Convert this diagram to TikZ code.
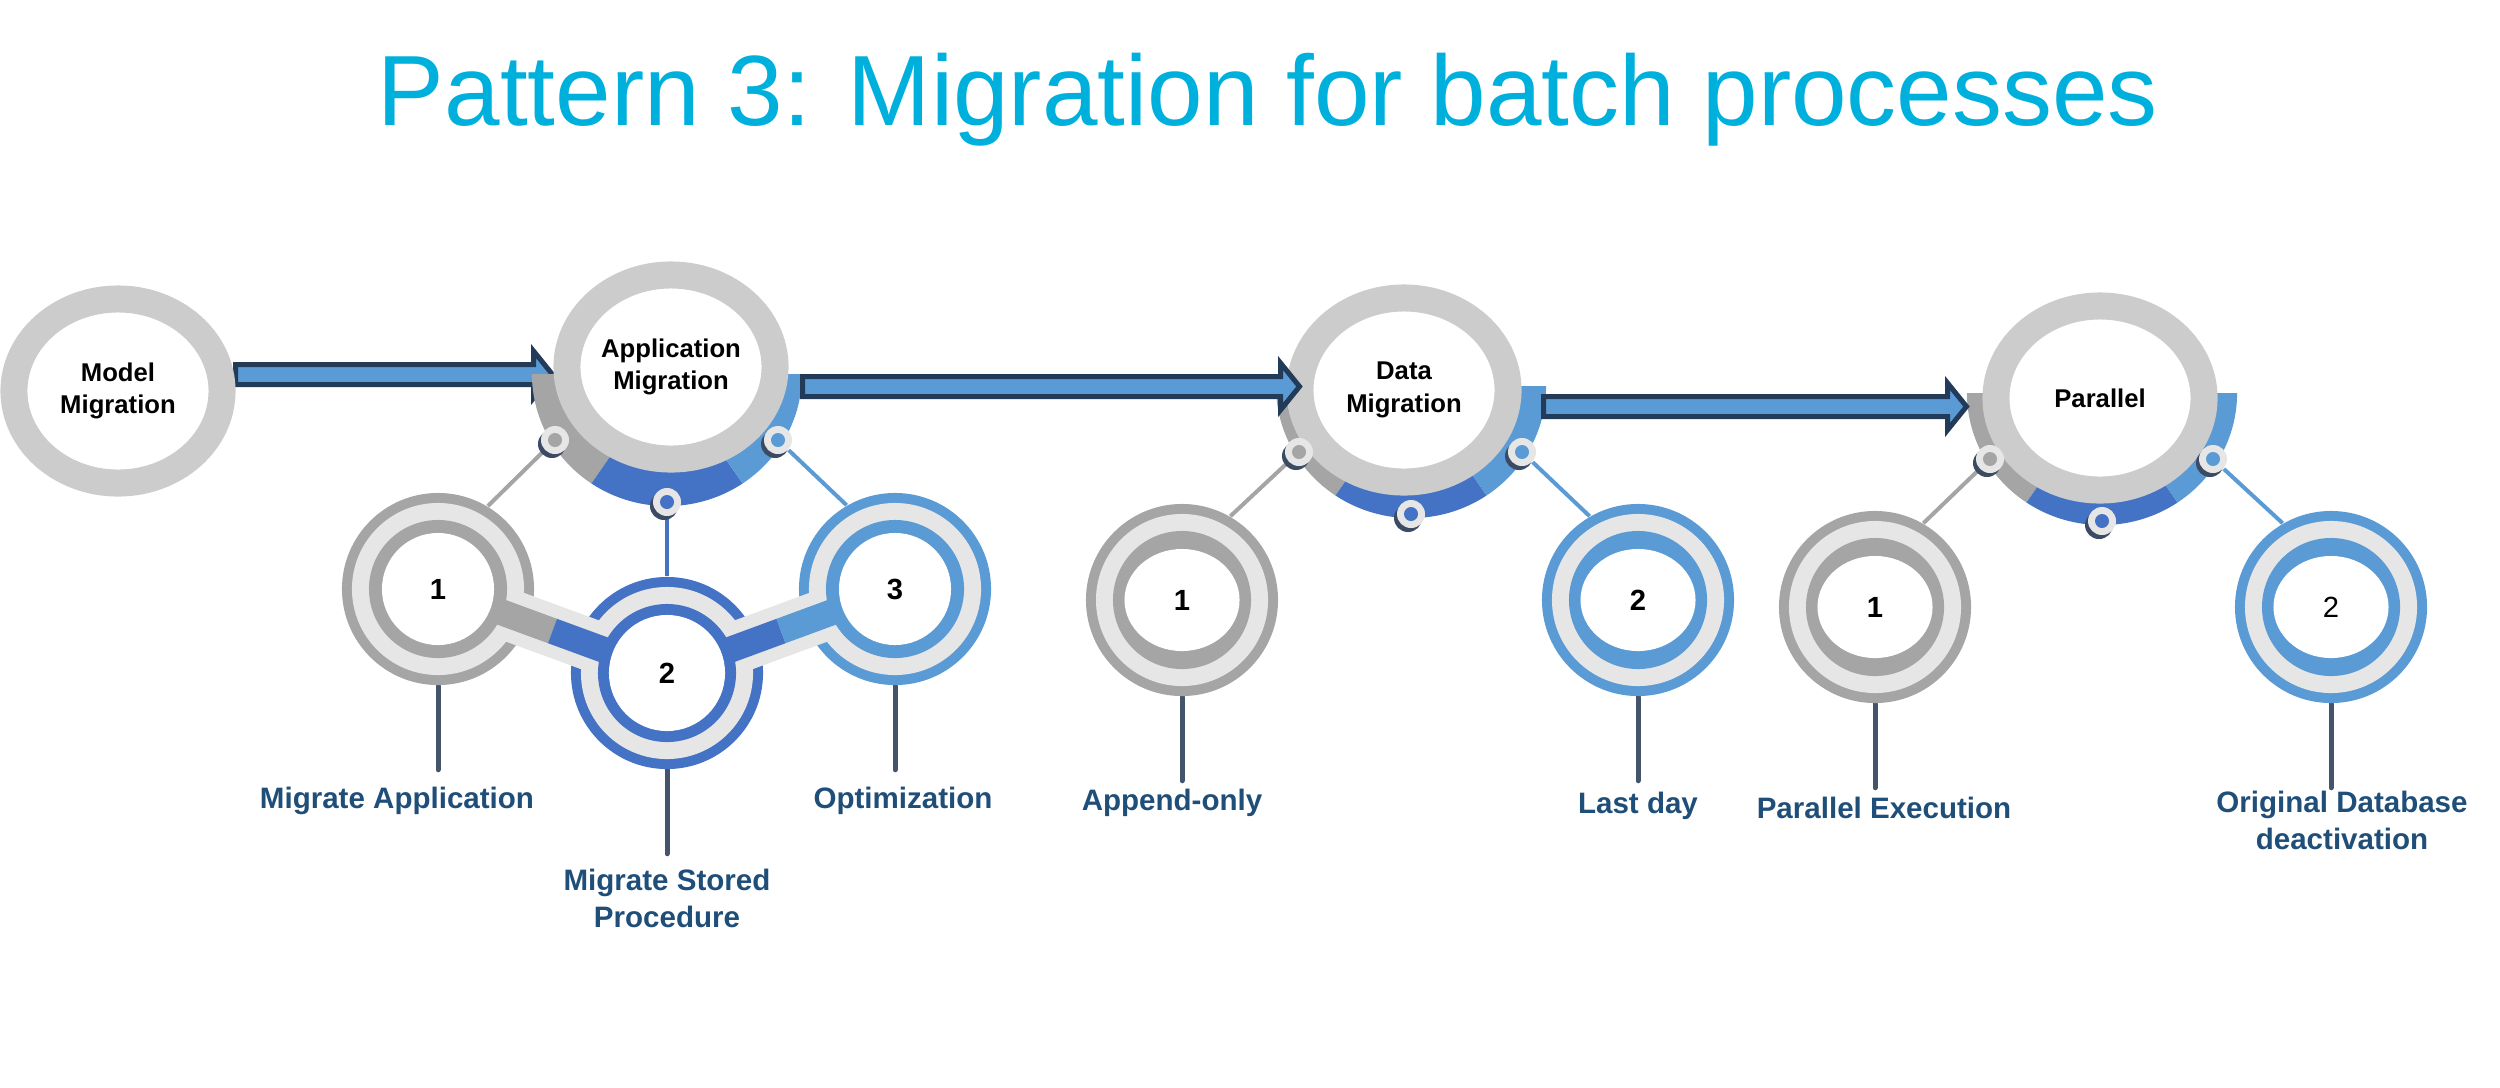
\documentclass[tikz,border=0pt]{standalone}
\usepackage{fontspec}
\setmainfont{Liberation Sans}
\usetikzlibrary{calc,shapes.geometric}

\definecolor{titlecyan}{RGB}{0,176,220}
\definecolor{ringgray}{RGB}{204,204,204}
\definecolor{ringlight}{RGB}{231,230,230}
\definecolor{bandgray}{RGB}{165,165,165}
\definecolor{stepblue}{RGB}{68,114,196}
\definecolor{steplight}{RGB}{91,155,213}
\definecolor{arrownavy}{RGB}{33,59,88}
\definecolor{knobshadow}{RGB}{59,75,99}
\definecolor{stemslate}{RGB}{68,84,106}
\definecolor{tagblue}{RGB}{31,78,121}

\pgfdeclarelayer{back}
\pgfsetlayers{back,main}

\tikzset{
  headline/.style={anchor=base, inner sep=0pt, text=titlecyan, font=\fontsize{28.4pt}{34pt}\selectfont},
  stage/.style={ellipse, minimum width=2.08cm, minimum height=1.84cm, inner sep=0pt,
    fill=white, draw=ringgray, line width=0.27cm, align=center,
    font=\fontsize{7.3pt}{9.3pt}\selectfont\bfseries},
  knob/.style={circle, minimum size=0.28cm, inner sep=0pt, fill=ringlight,
    preaction={fill=knobshadow, transform canvas={shift={(-0.03cm,-0.04cm)}}},
    path picture={\fill[#1] (path picture bounding box.center) circle[radius=0.07cm];}},
  substep/.style={circle, minimum size=1.92cm, inner sep=0pt,
    font=\fontsize{8.3pt}{10pt}\selectfont\bfseries},
  steptag/.style={anchor=base, inner sep=0pt, align=center, text=tagblue,
    font=\fontsize{8.4pt}{10.5pt}\selectfont\bfseries},
  link/.style={line width=0.04cm, draw=#1},
  stem/.style={line width=0.05cm, draw=stemslate, line cap=round},
  chainlight/.style={line width=0.52cm, draw=ringlight},
  chaincol/.style={line width=0.26cm, draw=#1},
  flow/.style={fill=steplight, draw=arrownavy, line width=0.05cm, line join=miter}
}

\newcommand\stageband[1]{%
  \fill[bandgray] (#1) -- +(180:1.35cm and 1.32cm) arc[start angle=180, end angle=236, x radius=1.35cm, y radius=1.32cm] -- cycle;
  \fill[stepblue] (#1) -- +(236:1.35cm and 1.32cm) arc[start angle=236, end angle=304, x radius=1.35cm, y radius=1.32cm] -- cycle;
  \fill[steplight] (#1) -- +(304:1.35cm and 1.32cm) arc[start angle=304, end angle=360, x radius=1.35cm, y radius=1.32cm] -- cycle;}

\newcommand\subouter[2]{%
  \fill[#2] (#1.center) circle[radius=0.96cm];
  \fill[ringlight] (#1.center) circle[radius=0.86cm];}

\newcommand\flowarrow[2]{%
  \draw[flow] ($(#1)+(0,10)$) -- ($(#2)+(-19,10)$) -- ($(#2)+(-19,23.5)$) -- (#2)
    -- ($(#2)+(-19,-23.5)$) -- ($(#2)+(-19,-10)$) -- ($(#1)+(0,-10)$) -- cycle;}

\begin{document}
\begin{tikzpicture}[x=0.01cm, y=0.01cm]
\useasboundingbox (0,0) rectangle (2500,-1087);

\node[headline] (title) at (1268,-125) {Pattern 3: Migration for batch processes};

\node[stage] (model) at (118,-391) {Model\\Migration};
\node[stage] (app) at (671,-367) {Application\\Migration};
\node[stage] (data) at (1404,-390) {Data\\Migration};
\node[stage] (par) at (2100,-398) {Parallel};

\coordinate (appb) at (667,-374);
\coordinate (datab) at (1411,-386);
\coordinate (parb) at (2102,-393);

\node[knob=bandgray] (appL) at (555,-440) {};
\node[knob=stepblue] (appB) at (667,-502) {};
\node[knob=steplight] (appR) at (778,-440) {};
\node[knob=bandgray] (dataL) at (1299,-452) {};
\node[knob=stepblue] (dataB) at (1411,-514) {};
\node[knob=steplight] (dataR) at (1522,-452) {};
\node[knob=bandgray] (parL) at (1990,-459) {};
\node[knob=stepblue] (parB) at (2102,-521) {};
\node[knob=steplight] (parR) at (2213,-459) {};

\node[substep] (app1) at (438,-589) {1};
\node[substep] (app2) at (667,-673) {2};
\node[substep] (app3) at (895,-589) {3};
\node[substep] (data1) at (1182,-600) {1};
\node[substep] (data2) at (1638,-600) {2};
\node[substep] (par1) at (1875,-607) {1};
\node[substep, font=\fontsize{8.3pt}{10pt}\selectfont] (par2) at (2331,-607) {2};

\node[steptag] (tapp1) at (397,-808) {Migrate Application};
\node[steptag] (tapp2) at (667,-927) {Migrate Stored\\Procedure};
\node[steptag] (tapp3) at (903,-808) {Optimization};
\node[steptag] (tdata1) at (1172,-810) {Append-only};
\node[steptag] (tdata2) at (1638,-813) {Last day};
\node[steptag] (tpar1) at (1884,-818) {Parallel Execution};
\node[steptag] (tpar2) at (2342,-849) {Original Database\\deactivation};

\coordinate (a1s) at (235.5,-374.5);
\coordinate (a1e) at (552.5,-374.5);
\coordinate (a2s) at (802.5,-386.5);
\coordinate (a2e) at (1299.5,-386.5);
\coordinate (a3s) at (1543.5,-406.5);
\coordinate (a3e) at (1966.5,-406.5);

\begin{pgfonlayer}{back}
\flowarrow{a1s}{a1e}
\stageband{appb}
\stageband{datab}
\stageband{parb}

\draw[link=bandgray] (appL) -- (app1.59);
\draw[link=stepblue] (appB) -- (app2);
\draw[link=steplight] (appR) -- (app3.120);
\draw[link=bandgray] (dataL) -- (data1.60);
\draw[link=steplight] (dataR) -- (data2.120);
\draw[link=bandgray] (parL) -- (par1.60);
\draw[link=steplight] (parR) -- (par2.120);

\draw[stem] (app1.south) -- ++(0,-84);
\draw[stem] (app2.south) -- ++(0,-84);
\draw[stem] (app3.south) -- ++(0,-84);
\draw[stem] (data1.south) -- ++(0,-84);
\draw[stem] (data2.south) -- ++(0,-84);
\draw[stem] (par1.south) -- ++(0,-84);
\draw[stem] (par2.south) -- ++(0,-84);

\subouter{app1}{bandgray}
\subouter{app2}{stepblue}
\subouter{app3}{steplight}
\subouter{data1}{bandgray}
\subouter{data2}{steplight}
\subouter{par1}{bandgray}
\subouter{par2}{steplight}

\draw[chainlight] (app1.center) -- (app2.center) -- (app3.center);

\fill[bandgray] (app1.center) circle[radius=0.69cm];
\fill[stepblue] (app2.center) circle[radius=0.69cm];
\fill[steplight] (app3.center) circle[radius=0.69cm];
\fill[bandgray] (data1.center) circle[radius=0.69cm];
\fill[steplight] (data2.center) circle[radius=0.69cm];
\fill[bandgray] (par1.center) circle[radius=0.69cm];
\fill[steplight] (par2.center) circle[radius=0.69cm];

\draw[chaincol=bandgray] (app1.center) -- ($(app1.center)!0.5!(app2.center)$);
\draw[chaincol=stepblue] ($(app1.center)!0.5!(app2.center)$) -- (app2.center) -- ($(app2.center)!0.5!(app3.center)$);
\draw[chaincol=steplight] ($(app2.center)!0.5!(app3.center)$) -- (app3.center);

\fill[white] (app1.center) circle[radius=0.56cm];
\fill[white] (app2.center) circle[radius=0.58cm];
\fill[white] (app3.center) circle[radius=0.56cm];
\fill[white] (data1.center) ellipse[x radius=0.575cm, y radius=0.51cm];
\fill[white] (data2.center) ellipse[x radius=0.575cm, y radius=0.51cm];
\fill[white] (par1.center) ellipse[x radius=0.575cm, y radius=0.51cm];
\fill[white] (par2.center) ellipse[x radius=0.575cm, y radius=0.51cm];
\end{pgfonlayer}

\flowarrow{a2s}{a2e}
\flowarrow{a3s}{a3e}
\end{tikzpicture}
\end{document}
